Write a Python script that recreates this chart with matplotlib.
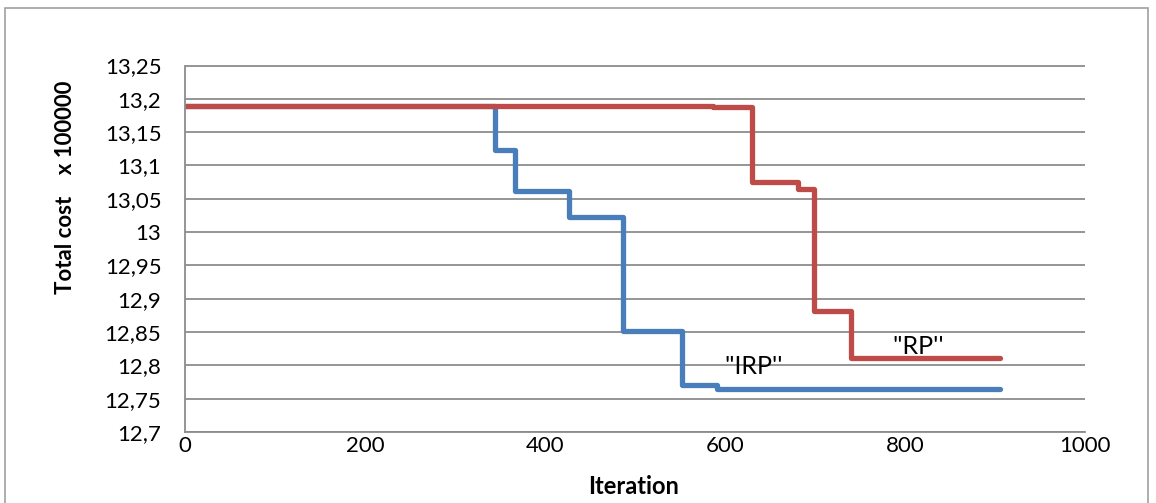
import matplotlib
matplotlib.use("Agg")
import matplotlib.pyplot as plt
from matplotlib.patches import Rectangle
from matplotlib.ticker import FuncFormatter

# Данные
irp_iter = [0, 344, 367, 427, 487, 552, 591, 906]
irp_cost = [13.189, 13.123, 13.062, 13.022, 12.851, 12.771, 12.764, 12.764]

rp_iter = [0, 587, 630, 681, 699, 740, 906]
rp_cost = [13.189, 13.187, 13.075, 13.065, 12.881, 12.811, 12.811]

x_ticks = [0, 200, 400, 600, 800, 1000]
y_ticks = [12.7, 12.75, 12.8, 12.85, 12.9, 12.95, 13.0, 13.05, 13.1, 13.15, 13.2, 13.25]

BLUE = "#4a7ebb"
RED = "#be4b48"
GRID = "#8c8c8c"

plt.rcParams["font.family"] = ["Lato", "DejaVu Sans"]

fig = plt.figure(figsize=(11.56, 5.03), dpi=100)
ax = fig.add_axes([185 / 1156, 1 - 432 / 503, 900 / 1156, (432 - 65.5) / 503])

# синяя ниже, красная поверх (как в оригинале)
ax.plot(irp_iter, irp_cost, drawstyle="steps-post", color=BLUE, lw=3.8,
        solid_capstyle="round", solid_joinstyle="round")
ax.plot(rp_iter, rp_cost, drawstyle="steps-post", color=RED, lw=3.8,
        solid_capstyle="round", solid_joinstyle="round")

ax.text(632, 12.798, "''IRP''", fontsize=18, ha="center", va="center")
ax.text(815, 12.829, "''RP''", fontsize=18, ha="center", va="center")

ax.set_xlim(0, 1000)
ax.set_ylim(12.7, 13.25)
ax.set_xticks(x_ticks)
ax.set_yticks(y_ticks)
ax.yaxis.set_major_formatter(FuncFormatter(lambda v, p: f"{v:g}".replace(".", ",")))
ax.tick_params(length=0, labelsize=16)
ax.tick_params(axis="x", pad=3)
ax.tick_params(axis="y", pad=17)
ax.grid(axis="y", color=GRID, lw=1.3)
ax.set_axisbelow(True)

for s in ("top", "right"):
    ax.spines[s].set_visible(False)
for s in ("left", "bottom"):
    ax.spines[s].set_color(GRID)
    ax.spines[s].set_linewidth(1.3)

fig.text(634 / 1156, 1 - 487 / 503, "Iteration", fontsize=17, fontweight="bold",
         ha="center", va="center")
fig.text(65 / 1156, 1 - 187 / 503, "Total cost    x 100000", fontsize=16,
         fontweight="bold", rotation=90, ha="center", va="center")

# рамка области диаграммы
fig.patches.append(Rectangle((5 / 1156, -0.1), 1143 / 1156, 1.1 - 8 / 503,
                             transform=fig.transFigure, fill=False,
                             edgecolor="#a0a0a0", lw=1.2))

fig.savefig("out.png", dpi=100, facecolor="white")
